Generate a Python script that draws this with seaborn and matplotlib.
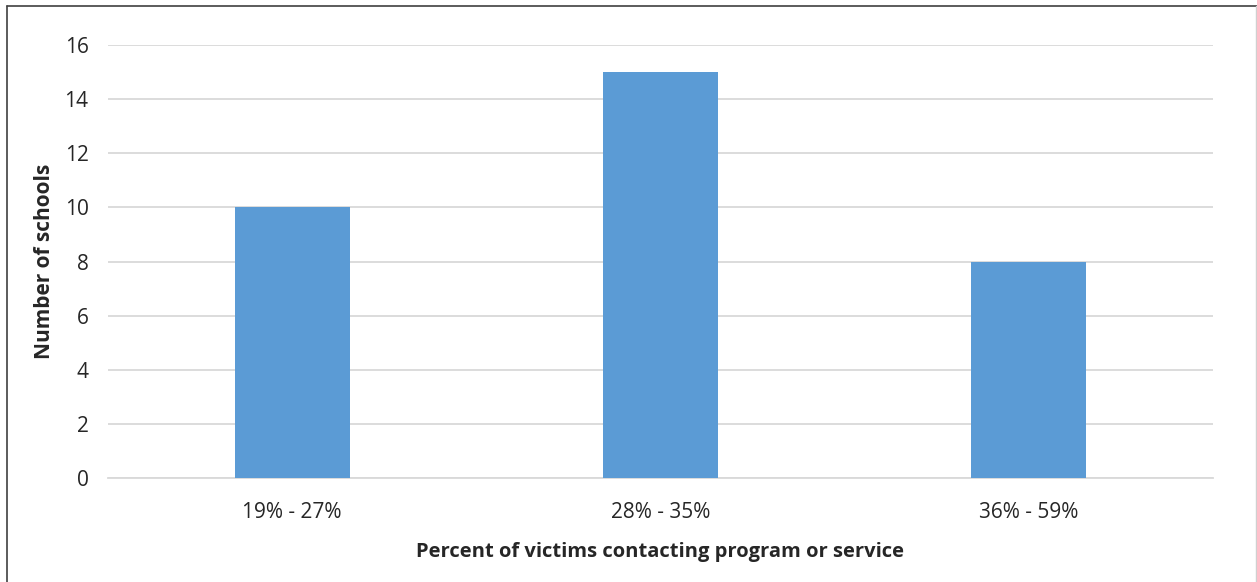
import matplotlib
matplotlib.use('Agg')
import matplotlib.pyplot as plt
import seaborn as sns
import pandas as pd
from matplotlib.lines import Line2D

# Data
categories = ['19% - 27%', '28% - 35%', '36% - 59%']
schools = [10, 15, 8]
y_ticks = [0, 2, 4, 6, 8, 10, 12, 14, 16]

df = pd.DataFrame({'Range': categories, 'Schools': schools})

sns.set_style('white')
plt.rcParams['font.family'] = ['Open Sans', 'DejaVu Sans']

fig = plt.figure(figsize=(12.57, 5.82), dpi=100)
ax = fig.add_axes([108 / 1257, 1 - 478 / 582, 1105 / 1257, 433 / 582])

sns.barplot(data=df, x='Range', y='Schools', color='#5B9BD5',
            saturation=1, width=0.313, linewidth=0, ax=ax, zorder=3)

ax.set_xlim(-0.5, 2.5)
ax.set_ylim(0, 16)
ax.set_yticks(y_ticks)
ax.yaxis.grid(True, color='#D9D9D9', linewidth=1.3, zorder=0)
ax.set_axisbelow(True)
for s in ['top', 'right', 'left']:
    ax.spines[s].set_visible(False)
ax.spines['bottom'].set_color('#D9D9D9')
ax.spines['bottom'].set_linewidth(1.3)
ax.tick_params(axis='both', length=0, labelsize=15, labelcolor='#262626')
ax.tick_params(axis='y', pad=14)
ax.tick_params(axis='x', pad=17)

ax.set_xlabel('Percent of victims contacting program or service',
              fontsize=14.5, fontweight='bold', labelpad=14)
ax.set_ylabel('Number of schools', fontsize=15, fontweight='bold', labelpad=7)

# chart border
fig.add_artist(Line2D([7 / 1257, 7 / 1257], [0, 1 - 6 / 582], color='#404040', lw=1.2))
fig.add_artist(Line2D([7 / 1257, 1], [1 - 6 / 582, 1 - 6 / 582], color='#404040', lw=1.2))
fig.add_artist(Line2D([1256 / 1257, 1256 / 1257], [0, 1 - 6 / 582], color='#D0D0D0', lw=1))

fig.savefig('out.png', dpi=100)
plt.close()
